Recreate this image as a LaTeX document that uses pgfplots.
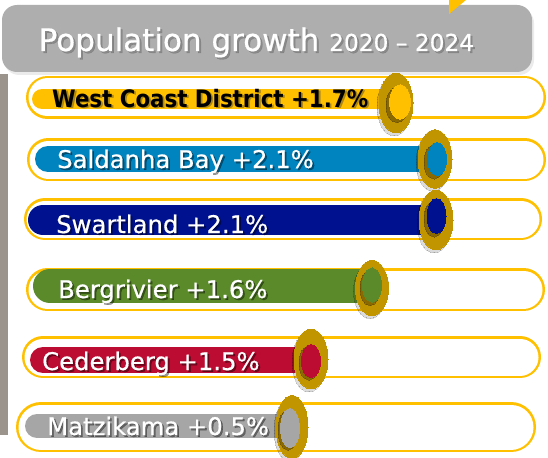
\documentclass[border=0pt]{standalone}
\usepackage{pgfplots}
\pgfplotsset{compat=1.18}
\usepackage{fontspec}
\setmainfont{DejaVu Sans}
\newfontfamily\narrowfont[FakeStretch=0.89]{DejaVu Sans}
\newfontfamily\labelfont[FakeBold=0.6]{DejaVu Sans}
\definecolor{capY}{HTML}{FFC000}
\definecolor{ring}{HTML}{C09500}
\definecolor{ringsh}{HTML}{5E4700}
\definecolor{cWC}{HTML}{FFC000}
\definecolor{cSB}{HTML}{0084BF}
\definecolor{cSW}{HTML}{00118F}
\definecolor{cBR}{HTML}{5A8A2A}
\definecolor{cCB}{HTML}{BC0C32}
\definecolor{cMK}{HTML}{A6A6A6}
\definecolor{leftbar}{HTML}{9B948D}
\definecolor{titlebox}{HTML}{AEAEAE}
\pgfplotsset{
  ell/.style n args={3}{only marks, mark=*, mark options={line width=0pt, draw=#1, fill=#1, opacity=#2, yscale=#3}},
}
\newcommand\shtext[5]{% x y textcolor shadowcolor text
  \node[anchor=base west, inner sep=0pt, text=#4, opacity=0.4] at (axis cs:#1+1.8,#2+1.8) {#5};
  \node[anchor=base west, inner sep=0pt, text=#3] at (axis cs:#1,#2) {#5};
}
\begin{document}
\begin{tikzpicture}
\begin{axis}[width=548bp,height=458bp,scale only axis,
  xmin=0,xmax=548,ymin=0,ymax=458,y dir=reverse,
  hide axis,clip=false,at={(0,0)},anchor=south west]
% background and decoration
\fill[white] (axis cs:0,0) rectangle (axis cs:548,458);
\fill[black, opacity=0.08, rounded corners=15bp] (axis cs:4,8) rectangle (axis cs:534,75);
\fill[titlebox, rounded corners=15bp] (axis cs:2,5) rectangle (axis cs:532,72);
\fill[capY] (axis cs:449,0) -- (axis cs:466,0) -- (axis cs:449,14) -- cycle;
\fill[leftbar] (axis cs:0,74) rectangle (axis cs:8,435);
% title
\node[anchor=base west, inner sep=0pt, text=black!60, opacity=0.5] at (axis cs:40.5,53) {\labelfont\fontsize{31bp}{36bp}\selectfont Population growth \fontsize{23.3bp}{28bp}\selectfont 2020 – 2024};
\node[anchor=base west, inner sep=0pt, text=white] at (axis cs:38.5,51) {\labelfont\fontsize{31bp}{36bp}\selectfont Population growth \fontsize{23.3bp}{28bp}\selectfont 2020 – 2024};

% ---------- Row 1: West Coast District
\addplot[draw=capY, line width=43bp, line cap=round] coordinates {(47.5,97.5) (524.5,97.5)};
\addplot[draw=white, line width=38bp, line cap=round] coordinates {(47.5,97.5) (524.5,97.5)};
\addplot[draw=cWC, line width=20bp, line cap=round] coordinates {(42,99) (396,99)};
\addplot[ell={black}{0.14}{1.76}, mark size=17bp] coordinates {(394,106)};
\addplot[ell={ring}{1}{1.76}, mark size=17bp] coordinates {(396,103)};
\addplot[ell={ringsh}{0.55}{1.6}, mark size=11bp] coordinates {(397,105)};
\addplot[ell={cWC}{1}{1.62}, mark size=10.5bp] coordinates {(400,102)};
\shtext{52}{107}{black}{black!80}{\narrowfont\bfseries\fontsize{24bp}{28bp}\selectfont West Coast District +1.7\%}

% ---------- Row 2: Saldanha Bay
\addplot[draw=capY, line width=43bp, line cap=round] coordinates {(48.5,159.5) (524.5,159.5)};
\addplot[draw=white, line width=38bp, line cap=round] coordinates {(48.5,159.5) (524.5,159.5)};
\addplot[draw=cSB, line width=26bp, line cap=round] coordinates {(48,159) (435,159)};
\addplot[ell={black}{0.14}{1.72}, mark size=17bp] coordinates {(433,162)};
\addplot[ell={ring}{1}{1.72}, mark size=17bp] coordinates {(435,159)};
\addplot[ell={ringsh}{0.55}{1.7}, mark size=10bp] coordinates {(434,162)};
\addplot[ell={cSB}{1}{1.74}, mark size=9.5bp] coordinates {(437,159)};
\shtext{57}{168}{white}{black}{\labelfont\fontsize{24.3bp}{28bp}\selectfont Saldanha Bay +2.1\%}

% ---------- Row 3: Swartland
\addplot[draw=capY, line width=42bp, line cap=round] coordinates {(45,219) (521,219)};
\addplot[draw=white, line width=37bp, line cap=round] coordinates {(45,219) (521,219)};
\addplot[draw=cSW, line width=30bp, line cap=round] coordinates {(43,220) (436,220)};
\addplot[ell={black}{0.14}{1.76}, mark size=17bp] coordinates {(434,223)};
\addplot[ell={ring}{1}{1.76}, mark size=17bp] coordinates {(436,220)};
\addplot[ell={ringsh}{0.55}{1.8}, mark size=10bp] coordinates {(434,219)};
\addplot[ell={cSW}{1}{1.84}, mark size=9.5bp] coordinates {(436.5,216)};
\shtext{56}{233}{white}{black}{\labelfont\fontsize{24.3bp}{28bp}\selectfont Swartland +2.1\%}

% ---------- Row 4: Bergrivier
\addplot[draw=capY, line width=43bp, line cap=round] coordinates {(47.5,289.5) (523.5,289.5)};
\addplot[draw=white, line width=38bp, line cap=round] coordinates {(47.5,289.5) (523.5,289.5)};
\addplot[draw=cBR, line width=34bp, line cap=round] coordinates {(50,286) (372,286)};
\addplot[ell={black}{0.14}{1.67}, mark size=16.5bp] coordinates {(370,291)};
\addplot[ell={ring}{1}{1.67}, mark size=16.5bp] coordinates {(372,288)};
\addplot[ell={ringsh}{0.55}{1.75}, mark size=10bp] coordinates {(370,288)};
\addplot[ell={cBR}{1}{1.79}, mark size=9.5bp] coordinates {(372,285)};
\shtext{58}{298}{white}{black}{\labelfont\fontsize{24.3bp}{28bp}\selectfont Bergrivier +1.6\%}

% ---------- Row 5: Cederberg
\addplot[draw=capY, line width=42bp, line cap=round] coordinates {(43,357) (520,357)};
\addplot[draw=white, line width=37bp, line cap=round] coordinates {(43,357) (520,357)};
\addplot[draw=cCB, line width=26bp, line cap=round] coordinates {(43,360) (311,360)};
\addplot[ell={black}{0.14}{1.76}, mark size=17bp] coordinates {(309,362)};
\addplot[ell={ring}{1}{1.76}, mark size=17bp] coordinates {(311,359)};
\addplot[ell={ringsh}{0.55}{1.7}, mark size=10bp] coordinates {(309,363)};
\addplot[ell={cCB}{1}{1.74}, mark size=9.5bp] coordinates {(311,361)};
\shtext{42}{370}{white}{black}{\labelfont\fontsize{24.3bp}{28bp}\selectfont Cederberg +1.5\%}

% ---------- Row 6: Matzikama
\addplot[draw=capY, line width=50bp, line cap=round] coordinates {(41,427) (511,427)};
\addplot[draw=white, line width=45bp, line cap=round] coordinates {(41,427) (511,427)};
\addplot[draw=cMK, line width=24bp, line cap=round] coordinates {(37,426) (290,426)};
\addplot[ell={black}{0.14}{1.97}, mark size=16bp] coordinates {(290,430)};
\addplot[ell={ring}{1}{1.97}, mark size=16bp] coordinates {(292,427)};
\addplot[ell={ringsh}{0.55}{2.0}, mark size=10bp] coordinates {(288,430)};
\addplot[ell={cMK}{1}{2.05}, mark size=9.5bp] coordinates {(290,428)};
\shtext{47}{435}{white}{black}{\labelfont\fontsize{24.3bp}{28bp}\selectfont Matzikama +0.5\%}
\end{axis}
\pgfresetboundingbox
\useasboundingbox (0,0) rectangle (548bp,458bp);
\end{tikzpicture}
\end{document}
